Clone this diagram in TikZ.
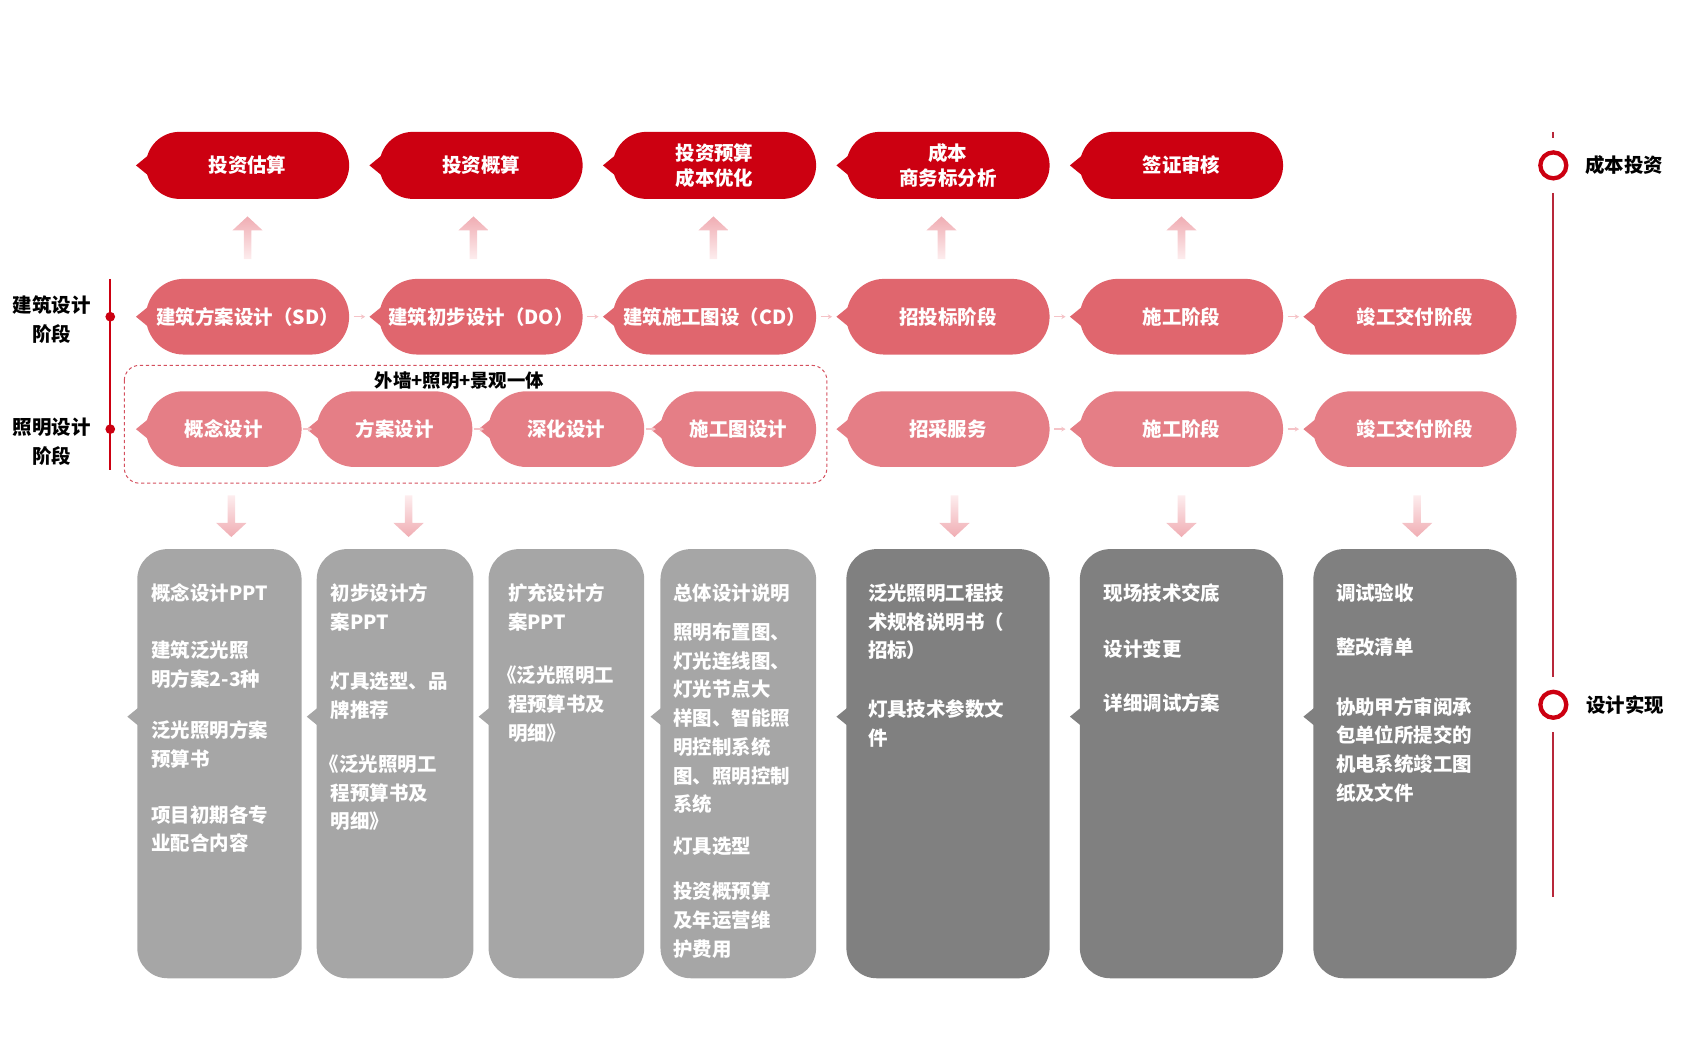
\documentclass[tikz,border=0pt]{standalone}
\usepackage{fontspec}
\setmainfont{Noto Sans CJK SC}
\usetikzlibrary{calc,arrows.meta}

\definecolor{costred}{HTML}{CC0011}
\definecolor{archpink}{HTML}{E0666E}
\definecolor{lightpink}{HTML}{E57E86}
\definecolor{flowpink}{HTML}{F0ADB3}
\definecolor{flowpale}{HTML}{FDEDEE}
\definecolor{hoppink}{HTML}{F5C3C7}
\definecolor{greylight}{HTML}{A6A6A6}
\definecolor{greydark}{HTML}{808080}
\definecolor{linered}{HTML}{B8283A}
\definecolor{groupred}{HTML}{D4505E}

% small pointer on the left side of a shape
\newcommand{\notch}[3]{%
  \fill[#2] (#1.west) ++(0,#3) ++(-9,0) -- ++(11,-9) -- ++(0,18) -- cycle;}

% pale arrow going up from one row to the next
\newcommand{\flowup}[3]{%
  \coordinate (fb) at ($(#1.north)+(#3,-18)$);
  \coordinate (ft) at ($(fb |- #2.south)+(0,16)$);
  \shade[top color=flowpink, bottom color=flowpale]
    ($(fb)+(-3.5,0)$) -- ($(ft)+(-3.5,13)$) -- ($(ft)+(-14,13)$) -- (ft)
    -- ($(ft)+(14,13)$) -- ($(ft)+(3.5,13)$) -- ($(fb)+(3.5,0)$) -- cycle;}

% pale arrow going down to the documents
\newcommand{\flowdown}[3]{%
  \coordinate (fb) at ($(#1.south)+(#3,26)$);
  \coordinate (ft) at ($(fb |- #2.north)+(0,-11)$);
  \shade[top color=flowpale, bottom color=flowpink]
    ($(fb)+(-3.5,0)$) -- ($(ft)+(-3.5,-13)$) -- ($(ft)+(-14,-13)$) -- (ft)
    -- ($(ft)+(14,-13)$) -- ($(ft)+(3.5,-13)$) -- ($(fb)+(3.5,0)$) -- cycle;}

\begin{document}
\begin{tikzpicture}[x=1pt,y=-1pt,
    pill/.style={rectangle, inner sep=0pt, text=white, align=center,
      font=\fontsize{18}{23}\selectfont\bfseries},
    costpill/.style={pill, fill=costred, rounded corners=31pt,
      minimum width=188pt, minimum height=62pt},
    archpill/.style={pill, fill=archpink, rounded corners=35pt,
      minimum width=188pt, minimum height=70pt},
    lightpill/.style={pill, fill=lightpink, rounded corners=35pt,
      minimum width=188pt, minimum height=70pt},
    docbox/.style={rectangle, rounded corners=28pt, inner sep=0pt,
      minimum height=397pt},
    para/.style={anchor=north west, inner sep=0pt, text=white, align=left,
      font=\fontsize{18}{26.6}\selectfont\bfseries},
    sidelabel/.style={align=center, text=black,
      font=\fontsize{18}{27}\selectfont\bfseries},
    hop/.style={hoppink, line width=1.2pt, -{Stealth[length=4pt,width=4.5pt]},
      shorten <=4pt, shorten >=13pt},
    tighthop/.style={hop, shorten <=1pt, shorten >=4pt},
  ]
  \useasboundingbox (0,0) rectangle (1569,984);

  % Draw the lighting group frame
  \draw[groupred, line width=0.9pt, dash pattern=on 3pt off 2.5pt,
    rounded corners=14pt] (115,338) rectangle (765,447);
  \node[sidelabel, font=\fontsize{17}{20}\selectfont\bfseries] (grouplabel)
    at (425,352) {外墙+照明+景观一体};

  % Draw the cost row
  \node[costpill] (c1) at (229,153) {投资估算};
  \node[costpill] (c2) at (445,153) {投资概算};
  \node[costpill] (c3) at (661,153) {投资预算\\成本优化};
  \node[costpill] (c4) at (877,153) {成本\\商务标分析};
  \node[costpill] (c5) at (1093,153) {签证审核};

  % Draw the architecture row
  \node[archpill] (sd) at (229,293) {建筑方案设计（SD）};
  \node[archpill] (do) at (445,293) {建筑初步设计（DO）};
  \node[archpill] (cd) at (661,293) {建筑施工图设（CD）};
  \node[archpill] (bid) at (877,293) {招投标阶段};
  \node[archpill] (build) at (1093,293) {施工阶段};
  \node[archpill] (hand) at (1309,293) {竣工交付阶段};

  % Draw the lighting row
  \node[lightpill, minimum width=144pt] (idea) at (207,397) {概念设计};
  \node[lightpill, minimum width=144pt] (scheme) at (365,397) {方案设计};
  \node[lightpill, minimum width=144pt] (detail) at (524,397) {深化设计};
  \node[lightpill, minimum width=144pt] (drawing) at (683,397) {施工图设计};
  \node[lightpill] (procure) at (877,397) {招采服务};
  \node[lightpill] (site) at (1093,397) {施工阶段};
  \node[lightpill] (done) at (1309,397) {竣工交付阶段};

  % Draw the pointers
  \foreach \n in {c1,c2,c3,c4,c5} {\notch{\n}{costred}{0}}
  \foreach \n in {sd,do,cd,bid,build,hand} {\notch{\n}{archpink}{0}}
  \foreach \n in {idea,scheme,detail,drawing,procure,site,done} {\notch{\n}{lightpink}{0}}

  % Draw the small steps
  \draw[hop] (sd.east) -- (do.west);
  \draw[hop] (do.east) -- (cd.west);
  \draw[hop] (cd.east) -- (bid.west);
  \draw[hop] (bid.east) -- (build.west);
  \draw[hop] (build.east) -- (hand.west);
  \draw[tighthop] (idea.east) -- (scheme.west);
  \draw[tighthop] (scheme.east) -- (detail.west);
  \draw[tighthop] (detail.east) -- (drawing.west);
  \draw[hop] (procure.east) -- (site.west);
  \draw[hop] (site.east) -- (done.west);

  % Draw the document boxes
  \node[docbox, fill=greylight, minimum width=152pt] (d1) at (203,706.5) {};
  \node[docbox, fill=greylight, minimum width=145pt] (d2) at (365.5,706.5) {};
  \node[docbox, fill=greylight, minimum width=144pt] (d3) at (524,706.5) {};
  \node[docbox, fill=greylight, minimum width=144pt] (d4) at (683,706.5) {};
  \node[docbox, fill=greydark, minimum width=188pt] (d5) at (877,706.5) {};
  \node[docbox, fill=greydark, minimum width=188pt] (d6) at (1093,706.5) {};
  \node[docbox, fill=greydark, minimum width=188pt] (d7) at (1309,706.5) {};
  \foreach \n in {d1,d2,d3,d4} {\notch{\n}{greylight}{-43.5}}
  \foreach \n in {d5,d6,d7} {\notch{\n}{greydark}{-43.5}}

  % Draw the arrows between rows
  \flowup{sd}{c1}{0}
  \flowup{do}{c2}{-7}
  \flowup{cd}{c3}{-1}
  \flowup{bid}{c4}{-6}
  \flowup{build}{c5}{0}
  \flowdown{idea}{d1}{7}
  \flowdown{scheme}{d2}{13}
  \flowdown{procure}{d5}{6}
  \flowdown{site}{d6}{0}
  \flowdown{done}{d7}{2}

  % Draw the document texts
  \node[para] (d1a) at ($(d1.north west)+(13,32)$) {概念设计PPT};
  \node[para] (d1b) at ($(d1.north west)+(13,85)$) {建筑泛光照\\明方案2-3种};
  \node[para] (d1c) at ($(d1.north west)+(13,159)$) {泛光照明方案\\预算书};
  \node[para] (d1d) at ($(d1.north west)+(13,237)$) {项目初期各专\\业配合内容};

  \node[para] (d2a) at ($(d2.north west)+(13,32)$) {初步设计方\\案PPT};
  \node[para] (d2b) at ($(d2.north west)+(13,114)$) {灯具选型、品\\牌推荐};
  \node[para] (d2c) at ($(d2.north west)+(13,190)$) {\hspace*{-10pt}《泛光照明工\\程预算书及\\明细》};

  \node[para] (d3a) at ($(d3.north west)+(18,32)$) {扩充设计方\\案PPT};
  \node[para] (d3b) at ($(d3.north west)+(18,108)$) {\hspace*{-10pt}《泛光照明工\\程预算书及\\明细》};

  \node[para] (d4a) at ($(d4.north west)+(12,32)$) {总体设计说明};
  \node[para] (d4b) at ($(d4.north west)+(12,68)$) {照明布置图、\\灯光连线图、\\灯光节点大\\样图、智能照\\明控制系统\\图、照明控制\\系统};
  \node[para] (d4c) at ($(d4.north west)+(12,266)$) {灯具选型};
  \node[para] (d4d) at ($(d4.north west)+(12,308)$) {投资概预算\\及年运营维\\护费用};

  \node[para] (d5a) at ($(d5.north west)+(20,32)$) {泛光照明工程技\\术规格说明书（\\招标）};
  \node[para] (d5b) at ($(d5.north west)+(20,139)$) {灯具技术参数文\\件};

  \node[para] (d6a) at ($(d6.north west)+(22,32)$) {现场技术交底};
  \node[para] (d6b) at ($(d6.north west)+(22,84)$) {设计变更};
  \node[para] (d6c) at ($(d6.north west)+(22,134)$) {详细调试方案};

  \node[para] (d7a) at ($(d7.north west)+(21,32)$) {调试验收};
  \node[para] (d7b) at ($(d7.north west)+(21,82)$) {整改清单};
  \node[para] (d7c) at ($(d7.north west)+(21,137)$) {协助甲方审阅承\\包单位所提交的\\机电系统竣工图\\纸及文件};

  % Draw the stage labels on the left
  \node[sidelabel] (archlabel) at (48,295.5) {建筑设计\\阶段};
  \node[sidelabel] (lightlabel) at (48,409) {照明设计\\阶段};
  \coordinate (ltop) at (102,258);
  \coordinate (lbot) at (102,435);
  \draw[costred, line width=1.8pt] (ltop) -- (lbot);
  \node[circle, fill=costred, inner sep=0pt, minimum size=9pt] (archdot) at (102,293) {};
  \node[circle, fill=costred, inner sep=0pt, minimum size=9pt] (lightdot) at (102,397) {};

  % Draw the timeline on the right
  \node[circle, draw=costred, line width=4pt, inner sep=0pt, minimum size=24pt] (costring) at (1437,153) {};
  \node[circle, draw=costred, line width=4pt, inner sep=0pt, minimum size=24pt] (designring) at (1437,652) {};
  \coordinate (rtop) at (1437,122);
  \coordinate (rbot) at (1437,830);
  \draw[linered, line width=2pt, shorten >=11.5pt] (rtop) -- (costring);
  \draw[linered, line width=2pt, shorten <=11.5pt, shorten >=11.5pt] (costring) -- (designring);
  \draw[linered, line width=2pt, shorten <=11.5pt] (designring) -- (rbot);
  \node[sidelabel, anchor=west] (costlabel) at (1463,153) {成本投资};
  \node[sidelabel, anchor=west] (designlabel) at (1464,652) {设计实现};
\end{tikzpicture}
\end{document}
